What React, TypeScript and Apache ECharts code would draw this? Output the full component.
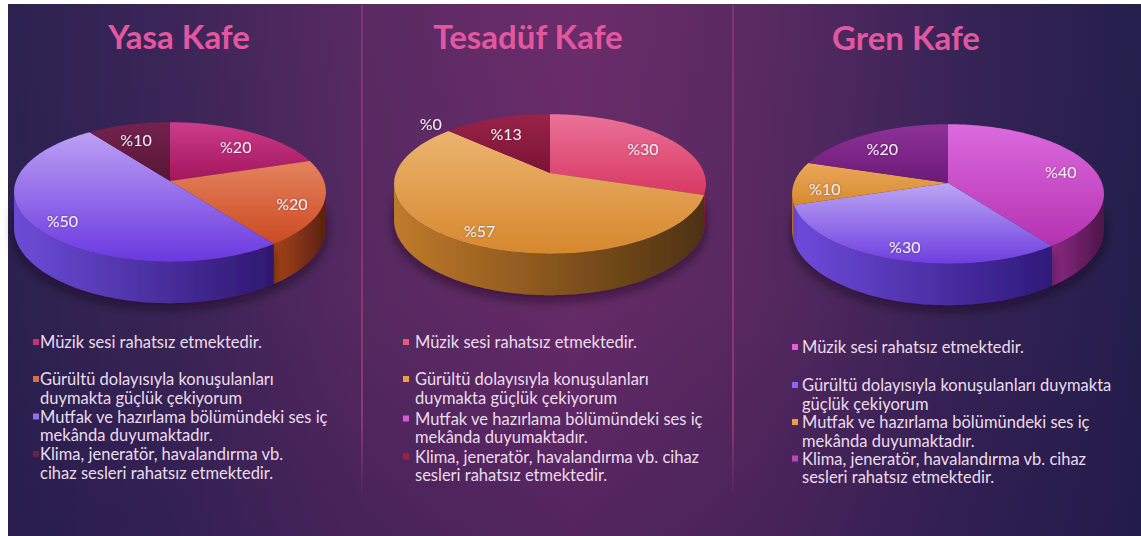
import React, { useEffect, useRef } from "react";
import * as echarts from "echarts";

// ---------- data ----------
const cafes = ["Yasa Kafe", "Tesadüf Kafe", "Gren Kafe"];
const categories = [
  "Müzik sesi rahatsız etmektedir.",
  "Gürültü dolayısıyla konuşulanları duymakta güçlük çekiyorum",
  "Mutfak ve hazırlama bölümündeki ses iç mekânda duyumaktadır.",
  "Klima, jeneratör, havalandırma vb. cihaz sesleri rahatsız etmektedir.",
];
const yasaValues = [20, 20, 50, 10];
const tesadufValues = [30, 57, 0, 13];
const grenValues = [40, 30, 10, 20];
const allValues = [yasaValues, tesadufValues, grenValues];

// ---------- styles ----------
type SliceStyle = { base: string; top: [string, string]; side: [string, string] };
const yasaColors: SliceStyle[] = [
  { base: "#c8307a", top: ["#cc3c8a", "#a3155c"], side: ["#8a1848", "#4a0a28"] },
  { base: "#e06a40", top: ["#e4835f", "#cc4a22"], side: ["#a8441a", "#5a2010"] },
  { base: "#9070f0", top: ["#bca0f4", "#6a38e0"], side: ["#6c4cd8", "#2e1870"] },
  { base: "#6e2044", top: ["#74224e", "#581634"], side: ["#4a1030", "#300a20"] },
];
const tesadufColors: SliceStyle[] = [
  { base: "#e8587a", top: ["#ea7298", "#d83862"], side: ["#a02848", "#6a1a34"] },
  { base: "#e8a040", top: ["#ecb470", "#d6882e"], side: ["#c07a2a", "#4e3212"] },
  { base: "#d458d8", top: ["#dc6ade", "#b432b0"], side: ["#8a2a84", "#4e1448"] },
  { base: "#a02040", top: ["#9a2248", "#7a1436"], side: ["#6a1430", "#400a1e"] },
];
const grenColors: SliceStyle[] = [
  { base: "#d860d8", top: ["#dc6ade", "#b432b0"], side: ["#8a2a84", "#4e1448"] },
  { base: "#8a66f0", top: ["#bca6f4", "#6e3ee0"], side: ["#6e4ada", "#2e1a7a"] },
  { base: "#e8a040", top: ["#eaa85a", "#d68a30"], side: ["#c07a2a", "#8a5218"] },
  { base: "#b448b8", top: ["#8e3298", "#6c1a78"], side: ["#5a1466", "#3a0c44"] },
];
const allColors = [yasaColors, tesadufColors, grenColors];

// ---------- layout ----------
const PIE_CENTERS = [
  [170, 181],
  [550, 173],
  [948, 183],
];
const RX = 154;
const RY = 68;
const K = 0.157; // perspective
const T0 = 35; // thickness
const TITLE_POS = [
  [179, 36],
  [528, 36],
  [906, 37],
];
const LEGEND_LAYOUT = [
  { markerX: 33, textX: 40, y0: 342, gaps: [37, 37.5, 37.5], breaks: [9, 3, 6, 4] },
  { markerX: 403, textX: 415, y0: 342, gaps: [37, 39.5, 38], breaks: [9, 3, 6, 5] },
  { markerX: 792, textX: 802, y0: 347, gaps: [38, 37, 36.5], breaks: [9, 4, 6, 5] },
];
const DIVIDERS = [362, 733];
const FONT = "Lato, 'DejaVu Sans', sans-serif";

function proj(cx: number, cy: number, phiDeg: number, r: number, dz: number) {
  const p = (phiDeg * Math.PI) / 180;
  const u = Math.sin(p) * r;
  const v = -Math.cos(p) * r;
  const s = 1 / (1 - K * v);
  return [cx + RX * u * s, cy + RY * v * s + dz * s];
}

function arc(cx: number, cy: number, a: number, b: number, dz: number) {
  const pts: number[][] = [];
  const n = Math.max(2, Math.ceil(b - a));
  for (let i = 0; i <= n; i++) {
    pts.push(proj(cx, cy, a + ((b - a) * i) / n, 1, dz));
  }
  return pts;
}

function wrap(text: string, n: number) {
  const w = text.split(" ");
  if (n >= w.length) return text;
  return w.slice(0, n).join(" ") + "\n" + w.slice(n).join(" ");
}

function makeSeries(pi: number) {
  const values = allValues[pi];
  const colors = allColors[pi];
  const [cx, cy] = PIE_CENTERS[pi];
  const total = values.reduce((s, v) => s + v, 0);
  return {
    type: "custom",
    coordinateSystem: "none",
    silent: true,
    data: values.map((v, i) => [v, i]),
    renderItem: (params: any, api: any) => {
      const idx = params.dataIndex;
      const val = api.value(0);
      let before = 0;
      for (let i = 0; i < idx; i++) before += values[i];
      const a = (before / total) * 360;
      const b = ((before + val) / total) * 360;
      const c = colors[idx];
      const children: any[] = [];
      if (b > a) {
        const a2 = Math.max(a, 99);
        const b2 = Math.min(b, 261);
        if (b2 > a2) {
          const top = arc(cx, cy, a2, b2, 0);
          const bot = arc(cx, cy, a2, b2, T0).reverse();
          children.push({
            type: "polygon",
            z2: 1,
            shape: { points: top.concat(bot) },
            style: {
              fill: new echarts.graphic.LinearGradient(0, 0, 1, 0, [
                { offset: 0, color: c.side[0] },
                { offset: 1, color: c.side[1] },
              ]),
              shadowBlur: 12,
              shadowColor: "rgba(10,0,25,0.55)",
              shadowOffsetY: 5,
            },
          });
        }
        const face = [[cx, cy]].concat(arc(cx, cy, a, b, 0));
        children.push({
          type: "polygon",
          z2: 2,
          shape: { points: face },
          style: {
            fill: new echarts.graphic.LinearGradient(0, 0, 0, 1, [
              { offset: 0, color: c.top[0] },
              { offset: 1, color: c.top[1] },
            ]),
          },
        });
      }
      const mid = (a + b) / 2;
      const lp = proj(cx, cy, mid, val === 0 ? 1.2 : 0.8, 0);
      children.push({
        type: "text",
        z2: 3,
        x: lp[0],
        y: lp[1] + (val === 0 ? 0 : 5),
        style: {
          text: "%" + val,
          fill: "#f6ecf6",
          font: `16px ${FONT}`,
          align: "center",
          verticalAlign: "middle",
          textShadowColor: "rgba(0,0,0,0.35)",
          textShadowBlur: 2,
        },
      });
      return { type: "group", children };
    },
  };
}

function buildGraphic() {
  const els: any[] = [];
  els.push({
    type: "rect",
    z: -10,
    shape: { x: 8, y: 4, width: 1133, height: 532 },
    style: {
      fill: new echarts.graphic.LinearGradient(
        8, 0, 1141, 0,
        [
          { offset: 0, color: "#2b2250" },
          { offset: 0.15, color: "#3c2558" },
          { offset: 0.32, color: "#5a2a63" },
          { offset: 0.5, color: "#6a2c6a" },
          { offset: 0.66, color: "#5a2a62" },
          { offset: 0.85, color: "#362356" },
          { offset: 1, color: "#241f4c" },
        ],
        true
      ),
    },
  });
  els.push({
    type: "rect",
    z: -9,
    shape: { x: 8, y: 4, width: 1133, height: 532 },
    style: {
      fill: new echarts.graphic.LinearGradient(
        0, 4, 0, 536,
        [
          { offset: 0, color: "rgba(30,15,60,0)" },
          { offset: 0.55, color: "rgba(30,15,60,0.05)" },
          { offset: 1, color: "rgba(30,20,70,0.3)" },
        ],
        true
      ),
    },
  });
  DIVIDERS.forEach((x) => {
    els.push({
      type: "line",
      z: -8,
      shape: { x1: x, y1: 5, x2: x, y2: 498 },
      style: {
        lineWidth: 2,
        stroke: new echarts.graphic.LinearGradient(
          0, 5, 0, 498,
          [
            { offset: 0, color: "rgba(180,60,140,0.45)" },
            { offset: 0.85, color: "rgba(190,60,140,0.6)" },
            { offset: 1, color: "rgba(190,60,140,0)" },
          ],
          true
        ),
      },
    });
  });
  cafes.forEach((name, i) => {
    els.push({
      type: "text",
      z: 10,
      x: TITLE_POS[i][0],
      y: TITLE_POS[i][1],
      style: {
        text: name,
        fill: "#e2579f",
        font: `bold 33px ${FONT}`,
        align: "center",
        verticalAlign: "middle",
      },
    });
  });
  LEGEND_LAYOUT.forEach((L, i) => {
    let y = L.y0;
    categories.forEach((cat, j) => {
      if (j > 0) y += L.gaps[j - 1];
      els.push({
        type: "rect",
        z: 10,
        shape: { x: L.markerX, y: y - 3, width: 6, height: 6 },
        style: { fill: allColors[i][j].base },
      });
      els.push({
        type: "text",
        z: 10,
        x: L.textX,
        y: y - 9.25,
        style: {
          text: wrap(cat, L.breaks[j]),
          fill: "#ecdcec",
          font: `16.5px ${FONT}`,
          lineHeight: 18.5,
          align: "left",
          verticalAlign: "top",
        },
      });
    });
  });
  return els;
}

export default function App() {
  const ref = useRef<HTMLDivElement>(null);
  useEffect(() => {
    if (!ref.current) return;
    const chart = echarts.init(ref.current, undefined, { renderer: "svg" });
    chart.setOption({
      animation: false,
      backgroundColor: "transparent",
      graphic: { elements: buildGraphic() },
      series: [0, 1, 2].map((i) => makeSeries(i)),
    });
    return () => chart.dispose();
  }, []);
  return (
    <div
      ref={ref}
      style={{ position: "absolute", left: 0, top: 0, width: 1141, height: 536 }}
    />
  );
}
